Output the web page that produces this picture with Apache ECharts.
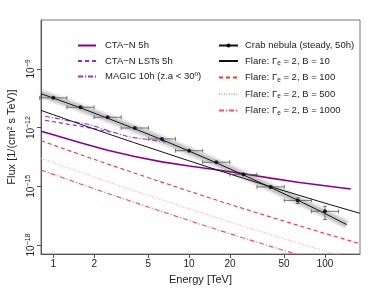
<!DOCTYPE html>
<html><head><meta charset="utf-8">
<script src="https://cdn.jsdelivr.net/npm/echarts@6/dist/echarts.min.js"></script>
<style>html,body{margin:0;padding:0;background:#fff}#c{width:374px;height:289px}</style>
</head><body><div id="c"></div>
<script>
// Tick labels
const xTickValues = [1, 2, 5, 10, 20, 50, 100];        // Energy [TeV]
const yTickExponents = [-18, -15, -12, -9];            // Flux = 10^exp

// Crab nebula points (log10 E, log10 flux), half bin width in log10 E, vertical errors in log10 flux
const crabLogE = [0, 0.2, 0.4, 0.6, 0.8, 1.0, 1.2, 1.4, 1.6, 1.8, 2.0];
const crabLogF = [-10.48, -10.96, -11.47, -12.02, -12.58, -13.18, -13.77, -14.40, -15.03, -15.72, -16.28];
const crabHalfBin = [0.1, 0.1, 0.1, 0.1, 0.1, 0.1, 0.1, 0.1, 0.1, 0.1, 0.1];
const crabErrUp = [0, 0, 0, 0, 0, 0, 0, 0, 0.04, 0.13, 0.26];
const crabErrDn = [0, 0, 0, 0, 0, 0, 0, 0, 0.04, 0.16, 0.42];

// Crab fit line
const fitLogE = [-0.09, 0, 0.2, 0.4, 0.6, 0.8, 1.0, 1.2, 1.4, 1.6, 1.8, 2.0, 2.16];
const fitLogF = [-10.27, -10.49, -10.99, -11.52, -12.06, -12.62, -13.20, -13.80, -14.42, -15.06, -15.71, -16.39, -16.96];

// Sensitivity curves
const ctaLogE = [-0.09, 0, 0.2, 0.4, 0.6, 0.8, 1.0, 1.2, 1.4, 1.6, 1.8, 2.0, 2.19];
const ctaLogF = [-12.19, -12.37, -12.77, -13.16, -13.48, -13.75, -13.96, -14.15, -14.36, -14.58, -14.79, -14.97, -15.14];
const lstLogE = [-0.06, 0.2, 0.42];
const lstLogF = [-11.63, -11.93, -12.22];
const magicLogE = [-0.06, 0.27, 0.42, 0.56, 0.83];
const magicLogF = [-11.42, -11.85, -12.19, -12.48, -12.74];

// Flare models
const flareLogE = [-0.09, 0, 0.2, 0.4, 0.6, 0.8, 1.0, 1.2, 1.4, 1.6, 1.8, 2.0, 2.257];
const flareB10 = [-11.12, -11.34, -11.83, -12.31, -12.78, -13.24, -13.70, -14.15, -14.59, -15.02, -15.44, -15.86, -16.38];
const flareB100 = [-12.67, -12.89, -13.38, -13.86, -14.33, -14.79, -15.25, -15.70, -16.14, -16.57, -16.99, -17.41, -17.93];
const flareB500 = [-13.57, -13.79, -14.28, -14.76, -15.23, -15.69, -16.15, -16.60, -17.04, -17.47, -17.89, -18.31, -18.83];
const flareB1000 = [-14.17, -14.39, -14.88, -15.36, -15.83, -16.29, -16.75, -17.20, -17.64, -18.07, -18.49, -18.91, -19.43];

const zip = (a, b) => a.map((v, i) => [v, b[i]]);
const FONT = 'Liberation Sans, Arial, sans-serif';

const chart = echarts.init(document.getElementById('c'), null, {renderer: 'canvas'});

function lineSeries(name, xs, ys, color, type, width) {
  return {
    name, type: 'line', data: zip(xs, ys), symbol: 'none', smooth: false, silent: true,
    lineStyle: {color, type, width}, itemStyle: {color}, z: 3, clip: true
  };
}

const hidden = {opacity: 0};

const option = {
  animation: false,
  backgroundColor: '#fff',
  grid: {left: 41, top: 20, right: 14, bottom: 35, show: true, borderColor: '#777', borderWidth: 1,
         containLabel: false, outerBoundsMode: 'none'},
  xAxis: {
    type: 'value', min: -0.0905, max: 2.258,
    name: 'Energy [TeV]', nameLocation: 'middle', nameGap: 20,
    nameTextStyle: {fontFamily: FONT, fontSize: 11, color: '#222'},
    axisLine: {show: true, onZero: false, lineStyle: {color: '#555'}},
    splitLine: {show: false},
    axisTick: {show: true, length: 4, lineStyle: {color: '#555'}, customValues: xTickValues.map(v => Math.log10(v))},
    axisLabel: {
      customValues: xTickValues.map(v => Math.log10(v)), margin: 5,
      fontFamily: FONT, fontSize: 10, color: '#222',
      formatter: v => String(Math.round(Math.pow(10, v)))
    }
  },
  yAxis: {
    type: 'value', min: -18.46, max: -6.5,
    name: 'Flux [1/(cm² s TeV)]', nameLocation: 'middle', nameGap: 20, nameRotate: 90,
    nameTextStyle: {fontFamily: FONT, fontSize: 11, color: '#222'},
    axisLine: {show: true, onZero: false, lineStyle: {color: '#555'}},
    splitLine: {show: false},
    axisTick: {show: true, length: 4, lineStyle: {color: '#555'}, customValues: yTickExponents},
    axisLabel: {
      customValues: yTickExponents, rotate: 90, margin: 3,
      fontFamily: FONT, color: '#222',
      formatter: v => '{b|10}{e|' + String(Math.round(v)).replace('-', '−') + '}',
      rich: {
        b: {fontSize: 10, lineHeight: 13, fontFamily: FONT, color: '#222'},
        e: {fontSize: 7, lineHeight: 7, verticalAlign: 'top', fontFamily: FONT, color: '#222'}
      }
    }
  },
  legend: [
    {
      data: [
        {name: 'CTA−N 5h', itemStyle: hidden},
        {name: 'CTA−N LSTs 5h', itemStyle: hidden},
        {name: 'MAGIC 10h (z.a < 30º)', itemStyle: hidden}
      ],
      orient: 'vertical', left: 77, top: 40.5, itemWidth: 18, itemHeight: 12, itemGap: 5.5,
      selectedMode: false, padding: 0,
      textStyle: {fontFamily: FONT, fontSize: 9.5, color: '#222', padding: [0, 0, 0, 4]}
    },
    {
      data: [
        {name: 'Crab nebula (steady, 50h)'},
        {name: 'Flare: Γe = 2, B = 10', itemStyle: hidden},
        {name: 'Flare: Γe = 2, B = 100', itemStyle: hidden},
        {name: 'Flare: Γe = 2, B = 500', itemStyle: hidden},
        {name: 'Flare: Γe = 2, B = 1000', itemStyle: hidden}
      ],
      orient: 'vertical', left: 218, top: 40.5, itemWidth: 19, itemHeight: 5, itemGap: 5.5,
      selectedMode: false, padding: 0,
      formatter: name => {
        if (name.startsWith('Flare')) {
          const rest = name.replace('Flare: Γe', '');
          return '{t|Flare: Γ}{s|e}{t|' + rest + '}';
        }
        return '{t|' + name + '}';
      },
      textStyle: {
        fontFamily: FONT, fontSize: 9.5, color: '#222', padding: [0, 0, 0, 2],
        rich: {
          t: {fontFamily: FONT, fontSize: 9.5, lineHeight: 12, color: '#222'},
          s: {fontFamily: FONT, fontSize: 6.5, lineHeight: 6, verticalAlign: 'bottom', color: '#222'}
        }
      }
    }
  ],
  series: [
    // Crab fit band (gray shading) and fit line
    {type: 'line', data: zip(fitLogE, fitLogF), symbol: 'none', silent: true, z: 1,
     lineStyle: {color: 'rgba(0,0,0,0.09)', width: 10}},
    {type: 'line', data: zip(fitLogE, fitLogF), symbol: 'none', silent: true, z: 1,
     lineStyle: {color: 'rgba(0,0,0,0.14)', width: 6}},
    {name: 'Crab nebula (steady, 50h)', type: 'line', data: zip(fitLogE, fitLogF),
     symbol: 'circle', symbolSize: 4, showSymbol: false, silent: true, z: 4,
     lineStyle: {color: '#111', width: 1}, itemStyle: {color: '#000'}},
    // sensitivity curves
    lineSeries('CTA−N 5h', ctaLogE, ctaLogF, '#8b008b', 'solid', 1.6),
    lineSeries('CTA−N LSTs 5h', lstLogE, lstLogF, '#a020f0', [4, 3], 1.2),
    lineSeries('MAGIC 10h (z.a < 30º)', magicLogE, magicLogF, '#9932cc', [5, 2, 1, 2], 1.1),
    // flare models
    lineSeries('Flare: Γe = 2, B = 10', flareLogE, flareB10, '#111', 'solid', 1),
    lineSeries('Flare: Γe = 2, B = 100', flareLogE, flareB100, '#ff3030', [4, 3], 1.1),
    lineSeries('Flare: Γe = 2, B = 500', flareLogE, flareB500, '#ffaaaa', [1, 1.5], 1.1),
    lineSeries('Flare: Γe = 2, B = 1000', flareLogE, flareB1000, '#ff5050', [5, 2, 1, 2], 1.1),
    // Crab error bars
    {
      type: 'custom', silent: true, z: 5, encode: {x: 0, y: 1},
      data: crabLogE.map((e, i) => [e, crabLogF[i], crabHalfBin[i], crabErrUp[i], crabErrDn[i]]),
      renderItem: (params, api) => {
        const x = api.value(0), y = api.value(1), dx = api.value(2), up = api.value(3), dn = api.value(4);
        const l = api.coord([x - dx, y]), r = api.coord([x + dx, y]);
        const st = {stroke: '#555', lineWidth: 0.8};
        const ch = [
          {type: 'line', shape: {x1: l[0], y1: l[1], x2: r[0], y2: r[1]}, style: st},
          {type: 'line', shape: {x1: l[0], y1: l[1] - 2, x2: l[0], y2: l[1] + 2}, style: st},
          {type: 'line', shape: {x1: r[0], y1: r[1] - 2, x2: r[0], y2: r[1] + 2}, style: st}
        ];
        if (up > 0 || dn > 0) {
          const t = api.coord([x, y + up]), b = api.coord([x, y - dn]);
          ch.push({type: 'line', shape: {x1: t[0], y1: t[1], x2: b[0], y2: b[1]}, style: st});
          ch.push({type: 'line', shape: {x1: t[0] - 2, y1: t[1], x2: t[0] + 2, y2: t[1]}, style: st});
          ch.push({type: 'line', shape: {x1: b[0] - 2, y1: b[1], x2: b[0] + 2, y2: b[1]}, style: st});
        }
        return {type: 'group', children: ch};
      }
    },
    // Crab points
    {type: 'scatter', data: zip(crabLogE, crabLogF), symbol: 'circle', symbolSize: 4, silent: true, z: 6,
     itemStyle: {color: '#000'}}
  ]
};
chart.setOption(option);
</script>
</body></html>
